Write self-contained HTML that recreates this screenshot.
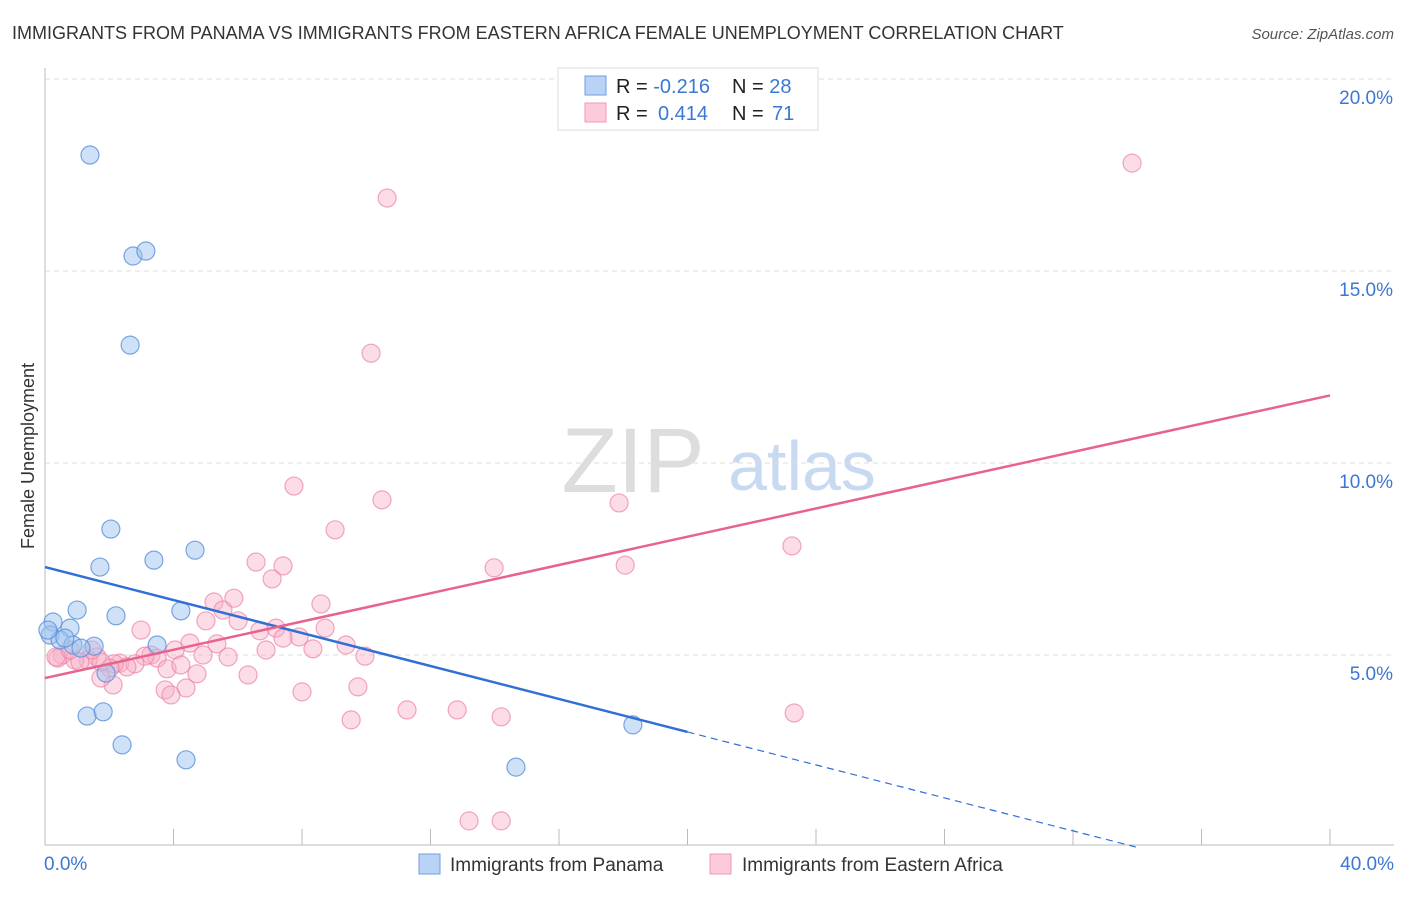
<!DOCTYPE html>
<html><head><meta charset="utf-8"><style>
body{margin:0;background:#fff;font-family:"Liberation Sans",sans-serif}
svg text{font-family:"Liberation Sans",sans-serif}
</style></head><body>
<svg id="c" width="1406" height="892">
<text x="12" y="39" font-size="18" fill="#333">IMMIGRANTS FROM PANAMA VS IMMIGRANTS FROM EASTERN AFRICA FEMALE UNEMPLOYMENT CORRELATION CHART</text>
<text x="1394" y="39" font-size="15" fill="#555" font-style="italic" text-anchor="end">Source: ZipAtlas.com</text>
<text transform="translate(34,456) rotate(-90)" font-size="18" fill="#333" text-anchor="middle">Female Unemployment</text>
<g><text x="633" y="492" font-size="92" fill="#ddd" font-family="Liberation Serif" text-anchor="middle">ZIP</text><text x="802" y="490" font-size="70" fill="#c8daf2" text-anchor="middle">atlas</text></g>
<g id="grid"></g><g id="axes"></g><g id="pts"></g><g id="lines"></g>
<g>
<rect x="558" y="68" width="260" height="62" fill="#fff" stroke="#ddd"/>
<rect x="585" y="76" width="21" height="19" fill="#b8d3f6" stroke="#6f9ee0"/>
<rect x="585" y="103" width="21" height="19" fill="#fccad8" stroke="#ef9ab4"/>
<text x="616" y="93" font-size="20" fill="#222">R = <tspan fill="#3b77d4">-0.216</tspan></text>
<text x="732" y="93" font-size="20" fill="#222">N = <tspan fill="#3b77d4">28</tspan></text>
<text x="616" y="120" font-size="20" fill="#222">R = <tspan fill="#3b77d4" x="658">0.414</tspan></text>
<text x="732" y="120" font-size="20" fill="#222">N = <tspan fill="#3b77d4" x="772">71</tspan></text>
</g>
<g>
<rect x="419" y="854" width="21" height="20" fill="#b8d3f6" stroke="#6f9ee0"/>
<text x="450" y="871" font-size="19" fill="#333">Immigrants from Panama</text>
<rect x="710" y="854" width="21" height="20" fill="#fccad8" stroke="#ef9ab4"/>
<text x="742" y="871" font-size="19" fill="#333">Immigrants from Eastern Africa</text>
</g>
</svg>
<script>
const blueX=[1.40,2.74,3.14,2.65,2.05,1.71,3.39,4.67,1.00,2.21,4.23,0.78,0.25,0.16,0.47,0.87,1.53,1.12,3.49,1.90,1.31,1.81,2.40,4.39,14.66,18.30,0.09,0.62];
const blueY=[18.02,15.39,15.52,13.07,8.28,7.29,7.47,7.73,6.17,6.02,6.15,5.70,5.86,5.52,5.39,5.26,5.23,5.18,5.26,4.53,3.41,3.52,2.66,2.27,2.08,3.18,5.65,5.44];
const pinkX=[33.84,10.65,10.15,7.75,10.49,17.87,9.03,23.25,13.98,18.06,6.57,7.41,7.07,5.88,5.26,5.54,8.59,5.01,6.01,2.99,6.69,7.19,7.91,7.41,8.72,9.37,4.51,5.35,4.05,6.88,8.34,4.92,5.70,3.30,3.49,3.11,9.96,1.62,2.33,2.80,2.55,2.15,1.34,0.93,0.53,0.40,1.09,2.02,1.74,3.80,4.23,4.73,6.32,3.74,4.39,3.92,2.12,1.74,8.00,9.74,11.27,12.83,14.20,9.53,23.32,13.20,14.20,0.34,1.46,0.78];
const pinkY=[17.81,16.90,12.86,9.40,9.04,8.96,8.26,7.84,7.27,7.34,7.42,7.32,6.98,6.48,6.38,6.17,6.33,5.89,5.89,5.65,5.63,5.70,5.47,5.44,5.70,5.26,5.31,5.29,5.13,5.13,5.16,5.00,4.95,5.00,4.92,4.97,4.97,4.95,4.79,4.77,4.69,4.77,4.87,4.87,5.00,4.92,4.82,4.66,4.82,4.64,4.74,4.51,4.48,4.09,4.14,3.96,4.22,4.40,4.04,4.17,3.57,3.57,3.39,3.31,3.49,0.68,0.68,4.95,5.13,5.13];
const blueTrend=[7.29,-0.2147];
const pinkTrend=[4.40,0.184];
const yTicks=[5,10,15,20];
const xTickLabels=["0.0%","40.0%"];
const NS="http://www.w3.org/2000/svg";
const sx=v=>45+v*1285/40, sy=v=>847-v*38.4;
function mk(t,a,p){const e=document.createElementNS(NS,t);for(const k in a)e.setAttribute(k,a[k]);p.appendChild(e);return e;}
const grid=document.getElementById('grid'),axes=document.getElementById('axes'),pts=document.getElementById('pts'),lines=document.getElementById('lines');
yTicks.forEach(t=>{
 const l=mk('line',{x1:45,x2:1394,y1:sy(t),y2:sy(t),stroke:'#ddd','stroke-dasharray':'5,4'},grid);
 
 
 const tx=mk('text',{x:1393,y:sy(t)+25,'font-size':19,fill:'#3b77d4','text-anchor':'end'},grid);
 tx.textContent=t.toFixed(1)+'%';
 
 
});
const ax=mk('path',{d:'M45,68V845H1394',stroke:'#bbb',fill:'none'},axes);


for(let i=0;i<=10;i++){const tk=mk('line',{x1:sx(i*4),x2:sx(i*4),y1:829,y2:845,stroke:'#bbb'},axes);
 
 }
const xl0=mk('text',{x:44,y:870,'font-size':19,fill:'#3b77d4'},axes);xl0.textContent=xTickLabels[0];


const xl1=mk('text',{x:1394,y:870,'font-size':19,fill:'#3b77d4','text-anchor':'end'},axes);xl1.textContent=xTickLabels[1];


pinkX.forEach((x,i)=>{const c=mk('circle',{cx:sx(x),cy:sy(pinkY[i]),r:9,fill:'rgba(248,175,198,0.42)',stroke:'rgba(235,130,165,0.7)','stroke-width':1.2},pts);
 
 });
blueX.forEach((x,i)=>{const c=mk('circle',{cx:sx(x),cy:sy(blueY[i]),r:9,fill:'rgba(160,196,240,0.5)',stroke:'rgba(90,145,220,0.8)','stroke-width':1.2},pts);
 
 });
const bl=(x)=>blueTrend[0]+blueTrend[1]*x, pl=(x)=>pinkTrend[0]+pinkTrend[1]*x;
const b1=mk('line',{x1:sx(0),y1:sy(bl(0)),x2:sx(20),y2:sy(bl(20)),stroke:'#2f6fd6','stroke-width':2.5},lines);


const xEnd=(0-blueTrend[0])/blueTrend[1];
const b2=mk('line',{x1:sx(20),y1:sy(bl(20)),x2:sx(xEnd),y2:sy(0),stroke:'#2f6fd6','stroke-width':1.2,'stroke-dasharray':'7,5'},lines);


const p1=mk('line',{x1:sx(0),y1:sy(pl(0)),x2:sx(40),y2:sy(pl(40)),stroke:'#e8628e','stroke-width':2.5},lines);


</script>
</body></html>
